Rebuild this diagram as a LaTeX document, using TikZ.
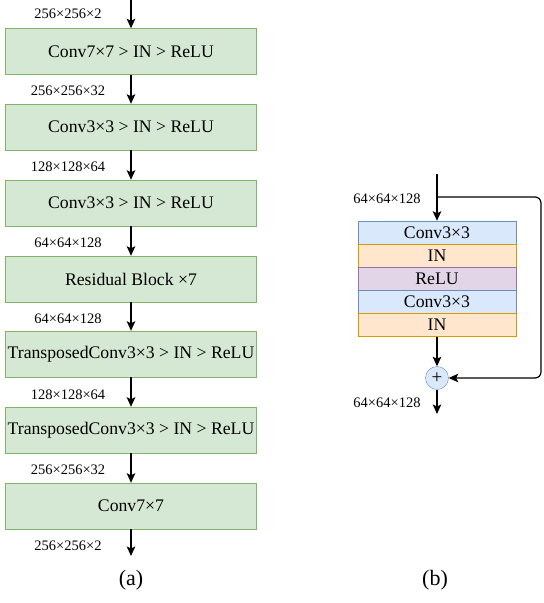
\documentclass[tikz,border=0pt]{standalone}
\usepackage{fontspec}
\setmainfont{Liberation Serif}
\usetikzlibrary{arrows.meta}

\begin{document}
\begin{tikzpicture}[x=1pt, y=-1pt, >={Stealth[length=9.5pt,width=8.5pt,inset=2pt]},
        layer/.style={draw={rgb,255:red,130;green,179;blue,102}, fill={rgb,255:red,213;green,232;blue,212}, minimum width=251pt, minimum height=46pt, inner sep=0pt, font=\fontsize{17.7}{20}\selectfont},
        sub/.style={minimum width=158pt, minimum height=23pt, inner sep=0pt, font=\fontsize{17.7}{20}\selectfont},
        convrow/.style={sub, draw={rgb,255:red,108;green,142;blue,191}, fill={rgb,255:red,218;green,232;blue,252}},
        normrow/.style={sub, draw={rgb,255:red,215;green,155;blue,0}, fill={rgb,255:red,255;green,230;blue,204}},
        actrow/.style={sub, draw={rgb,255:red,150;green,115;blue,166}, fill={rgb,255:red,225;green,213;blue,231}},
        dims/.style={font=\fontsize{14.5}{16}\selectfont, inner sep=0pt},
        flow/.style={->, line width=1.2pt}]
        \useasboundingbox (0,0) rectangle (544,603);

        % (a) generator
        \coordinate (ain)  at (131,0);
        \node[layer] (c7)  at (131,51.5)  {Conv7×7 > IN > ReLU};
        \node[layer] (d1)  at (131,127)   {Conv3×3 > IN > ReLU};
        \node[layer] (d2)  at (131,203)   {Conv3×3 > IN > ReLU};
        \node[layer] (res) at (131,279)   {Residual Block ×7};
        \node[layer] (u1)  at (131,354)   {TransposedConv3×3 > IN > ReLU};
        \node[layer] (u2)  at (131,430)   {TransposedConv3×3 > IN > ReLU};
        \node[layer] (out) at (131,506)   {Conv7×7};
        \coordinate (aout) at (131,556);

        \node[dims] (s0) at (68,14)  {256×256×2};
        \node[dims] (s1) at (68,91)  {256×256×32};
        \node[dims] (s2) at (68,167) {128×128×64};
        \node[dims] (s3) at (68,243) {64×64×128};
        \node[dims] (s4) at (68,319) {64×64×128};
        \node[dims] (s5) at (68,395) {128×128×64};
        \node[dims] (s6) at (68,470) {256×256×32};
        \node[dims] (s7) at (68,546) {256×256×2};

        \draw[flow] (ain) -- (c7);
        \draw[flow] (c7) -- (d1);
        \draw[flow] (d1) -- (d2);
        \draw[flow] (d2) -- (res);
        \draw[flow] (res) -- (u1);
        \draw[flow] (u1) -- (u2);
        \draw[flow] (u2) -- (out);
        \draw[flow] (out) -- (aout);

        \node[font=\fontsize{22}{24}\selectfont] (capa) at (131,580) {(a)};

        % (b) residual block
        \coordinate (bin)   at (437,174);
        \coordinate (split) at (437,197);
        \coordinate (turn)  at (541,378);
        \node[convrow] (r1) at (437,232.5) {Conv3×3};
        \node[normrow] (r2) at (437,255.5) {IN};
        \node[actrow]  (r3) at (437,278.5) {ReLU};
        \node[convrow] (r4) at (437,301.5) {Conv3×3};
        \node[normrow] (r5) at (437,325)   {IN};
        \node[circle, draw={rgb,255:red,108;green,142;blue,191}, fill={rgb,255:red,218;green,232;blue,252}, minimum size=23pt, inner sep=0pt, font=\fontsize{19}{19}\selectfont] (plus) at (437,378) {+};
        \coordinate (bout)  at (437,414);

        \node[dims] (t0) at (387,199) {64×64×128};
        \node[dims] (t1) at (387,403) {64×64×128};

        \draw[flow] (bin) -- (r1);
        \draw[flow] (r5) -- (plus);
        \draw[flow] (plus) -- (bout);
        \draw[flow, rounded corners=6pt] (split) -| (turn) -- (plus);

        \node[font=\fontsize{22}{24}\selectfont] (capb) at (435,580) {(b)};

    \end{tikzpicture}
\end{document}
